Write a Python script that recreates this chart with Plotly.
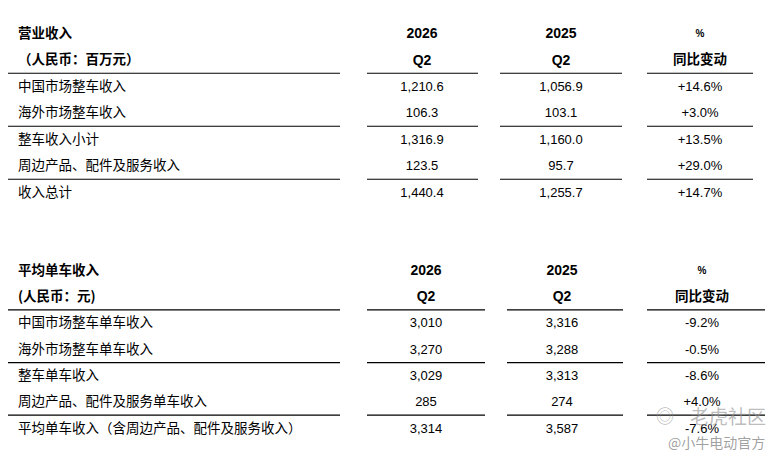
import plotly.graph_objects as go

# top table: operating revenue (RMB million)
rev_title = "营业收入"
rev_unit = "（人民币：百万元）"
rev_labels = ["中国市场整车收入", "海外市场整车收入", "整车收入小计",
              "周边产品、配件及服务收入", "收入总计"]
rev_2026 = ["1,210.6", "106.3", "1,316.9", "123.5", "1,440.4"]
rev_2025 = ["1,056.9", "103.1", "1,160.0", "95.7", "1,255.7"]
rev_yoy = ["+14.6%", "+3.0%", "+13.5%", "+29.0%", "+14.7%"]

# bottom table: revenue per unit (RMB)
asp_title = "平均单车收入"
asp_unit = "(人民币：元)"
asp_labels = ["中国市场整车单车收入", "海外市场整车单车收入", "整车单车收入",
              "周边产品、配件及服务单车收入", "平均单车收入（含周边产品、配件及服务收入）"]
asp_2026 = ["3,010", "3,270", "3,029", "285", "3,314"]
asp_2025 = ["3,316", "3,288", "3,313", "274", "3,587"]
asp_yoy = ["-9.2%", "-0.5%", "-8.6%", "+4.0%", "-7.6%"]

col_years = ["2026", "2025"]
col_q = "Q2"

FONT = "Arial, Liberation Sans, Noto Sans CJK SC, sans-serif"
CJK = "Noto Sans CJK SC, sans-serif"

fig = go.Figure()


def add_block(top, step, title, unit, labels, v26, v25, yoy, cols, seg):
    ys = [top + i * step for i in range(7)]
    ty = [y + 1.5 for y in ys]  # text sits a touch lower than the row centre
    body = ty[2:]
    # headers
    fig.add_trace(go.Scatter(x=[18, 18], y=ty[:2], mode="text", text=[title, unit],
                             textposition="middle right",
                             textfont=dict(family=CJK, size=13.5, color="black", weight="bold")))
    fig.add_trace(go.Scatter(x=[cols[0], cols[1]], y=[ty[0], ty[0]], mode="text", text=col_years,
                             textfont=dict(family=FONT, size=14, color="black", weight="bold")))
    fig.add_trace(go.Scatter(x=[cols[0], cols[1]], y=[ty[1], ty[1]], mode="text", text=[col_q, col_q],
                             textfont=dict(family=FONT, size=14, color="black", weight="bold")))
    fig.add_trace(go.Scatter(x=[cols[2]], y=[ty[0]], mode="text", text=["%"],
                             textfont=dict(family=FONT, size=10, color="black", weight="bold")))
    fig.add_trace(go.Scatter(x=[cols[2]], y=[ty[1]], mode="text", text=["同比变动"],
                             textfont=dict(family=CJK, size=13.5, color="black", weight="bold")))
    # body
    fig.add_trace(go.Scatter(x=[18] * len(labels), y=body, mode="text", text=labels,
                             textposition="middle right",
                             textfont=dict(family=CJK, size=13.5, color="black")))
    for cx, vals in zip(cols, [v26, v25, yoy]):
        fig.add_trace(go.Scatter(x=[cx] * len(vals), y=body, mode="text", text=vals,
                                 textfont=dict(family=FONT, size=13, color="black")))
    # rules
    for k in (1, 3, 5):
        ly = (ys[k] + ys[k + 1]) / 2 + 0.5
        for x0, x1 in seg:
            fig.add_shape(type="line", x0=x0, x1=x1, y0=ly, y1=ly, xref="x", yref="y",
                          line=dict(color="black", width=1.2))


add_block(33, 26.5, rev_title, rev_unit, rev_labels, rev_2026, rev_2025, rev_yoy,
          [422, 561, 700], [(8, 340), (367, 478), (500, 622), (647, 753)])
add_block(270, 26.3, asp_title, asp_unit, asp_labels, asp_2026, asp_2025, asp_yoy,
          [426, 562, 702], [(8, 340), (367, 485), (507, 623), (647, 765)])

# watermark
fig.add_annotation(x=665, y=415, xref="x", yref="y", text="◎", showarrow=False,
                   font=dict(family=CJK, size=18, color="rgba(150,150,150,0.65)"))
fig.add_annotation(x=728, y=415, xref="x", yref="y", text="老虎社区", showarrow=False,
                   font=dict(family=CJK, size=19, color="rgba(150,150,150,0.65)"))
fig.add_annotation(x=716, y=442, xref="x", yref="y", text="@小牛电动官方", showarrow=False,
                   font=dict(family=CJK, size=14, color="rgba(130,130,130,0.75)"))

# page body has an 8px margin, so the figure starts at pixel 8
fig.update_layout(
    width=772, height=451, margin=dict(l=0, r=0, t=0, b=0),
    paper_bgcolor="white", plot_bgcolor="white", showlegend=False,
    xaxis=dict(range=[8, 780], visible=False, fixedrange=True),
    yaxis=dict(range=[459, 8], visible=False, fixedrange=True),
)

fig.write_html("out.html")
